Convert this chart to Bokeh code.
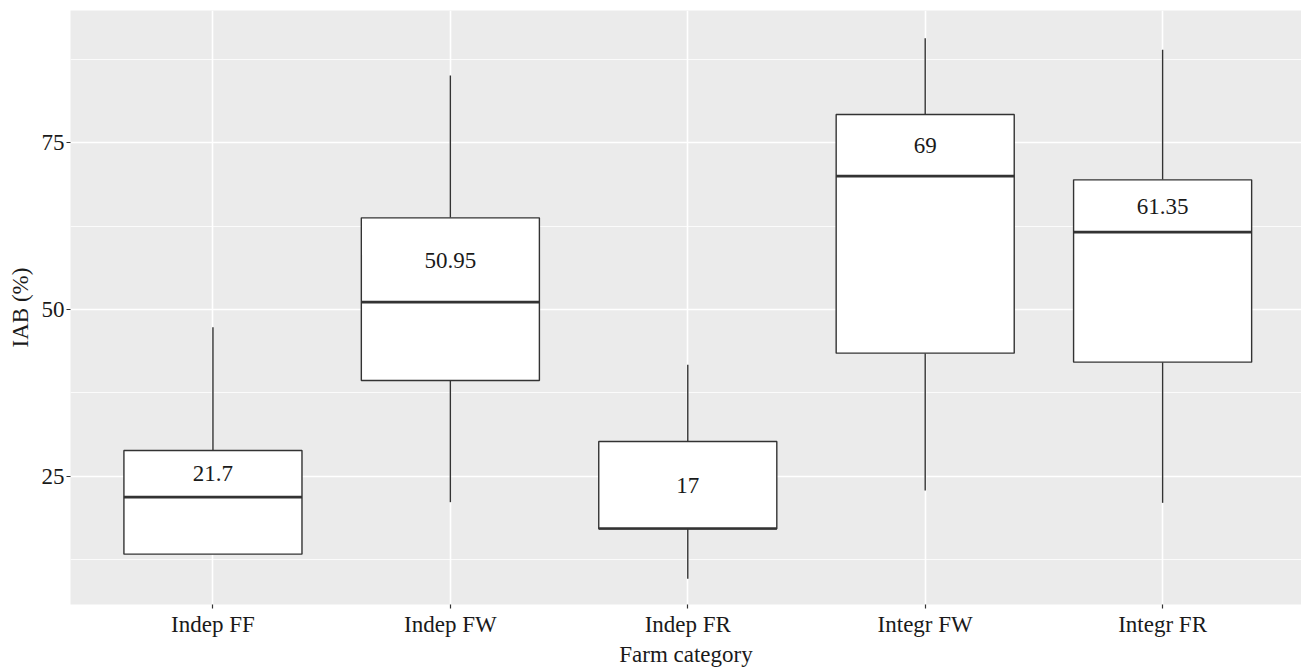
from bokeh.plotting import figure
from bokeh.models import Range1d, FixedTicker, ColumnDataSource
from bokeh.core.properties import value
from bokeh.embed import file_html
from bokeh.resources import INLINE

categories = ["Indep FF", "Indep FW", "Indep FR", "Integr FW", "Integr FR"]
lower = [13.3, 21.1, 9.6, 22.85, 21.0]
q1 = [13.3, 39.35, 17.1, 43.45, 42.1]
median = [21.85, 51.1, 17.15, 70.0, 61.6]
q3 = [28.85, 63.75, 30.2, 79.25, 69.45]
upper = [47.35, 85.1, 41.7, 90.7, 88.95]
labels = ["21.7", "50.95", "17", "69", "61.35"]
y_ticks = [25, 50, 75]
y_minor = [12.5, 37.5, 62.5, 87.5]

FONT = "Liberation Serif"
DARK = "#333333"

x = list(range(1, len(categories) + 1))
bw = 0.75
src = ColumnDataSource(dict(
    x=x, left=[v - bw / 2 for v in x], right=[v + bw / 2 for v in x],
    lower=lower, q1=q1, median=median, q3=q3, upper=upper, labels=labels,
    ly=[(m + t) / 2 for m, t in zip(median, q3)],
))

p = figure(width=1301, height=669, output_backend="svg", toolbar_location=None,
           x_range=Range1d(0.4, 5.585), y_range=Range1d(5.75, 94.85),
           min_border_left=70, min_border_right=0, min_border_top=10, min_border_bottom=0)
p.background_fill_color = "#EBEBEB"
p.border_fill_color = "white"
p.outline_line_color = None

# grids
p.xgrid.ticker = FixedTicker(ticks=x)
p.xgrid.grid_line_color = "white"
p.xgrid.grid_line_width = 1.6
p.ygrid.ticker = FixedTicker(ticks=y_ticks, minor_ticks=y_minor)
p.ygrid.grid_line_color = "white"
p.ygrid.grid_line_width = 1.6
p.ygrid.minor_grid_line_color = "white"
p.ygrid.minor_grid_line_width = 0.8

# whiskers
p.segment(x0="x", x1="x", y0="q3", y1="upper", source=src, line_color=DARK, line_width=1.4)
p.segment(x0="x", x1="x", y0="lower", y1="q1", source=src, line_color=DARK, line_width=1.4)
# boxes
p.quad(left="left", right="right", bottom="q1", top="q3", source=src,
       fill_color="white", line_color=DARK, line_width=1.4)
# medians
p.segment(x0="left", x1="right", y0="median", y1="median", source=src, line_color=DARK, line_width=2.6)
# labels
p.text(x="x", y="ly", text="labels", source=src, text_font=value(FONT),
       text_font_size="23px", text_align="center", text_baseline="middle", text_color="#1a1a1a")

# axes
for ax in (p.xaxis[0], p.yaxis[0]):
    ax.axis_line_color = None
    ax.major_tick_line_color = DARK
    ax.major_tick_line_width = 1.2
    ax.major_tick_in = 0
    ax.major_tick_out = 4
    ax.minor_tick_line_color = None
    ax.major_label_text_font = FONT
    ax.major_label_text_font_size = "23px"
    ax.major_label_text_color = "#1a1a1a"
    ax.axis_label_text_font = FONT
    ax.axis_label_text_font_size = "23px"
    ax.axis_label_text_font_style = "normal"
    ax.axis_label_text_color = "#1a1a1a"

p.xaxis.ticker = FixedTicker(ticks=x)
p.xaxis.major_label_overrides = {v: c for v, c in zip(x, categories)}
p.xaxis.axis_label = "Farm category"
p.xaxis.major_label_standoff = 3
p.xaxis.axis_label_standoff = 2

p.yaxis.ticker = FixedTicker(ticks=y_ticks)
p.yaxis.axis_label = "IAB (%)"
p.yaxis.major_label_standoff = 2
p.yaxis.axis_label_standoff = 6

open("out.html", "w").write(file_html(p, INLINE))
